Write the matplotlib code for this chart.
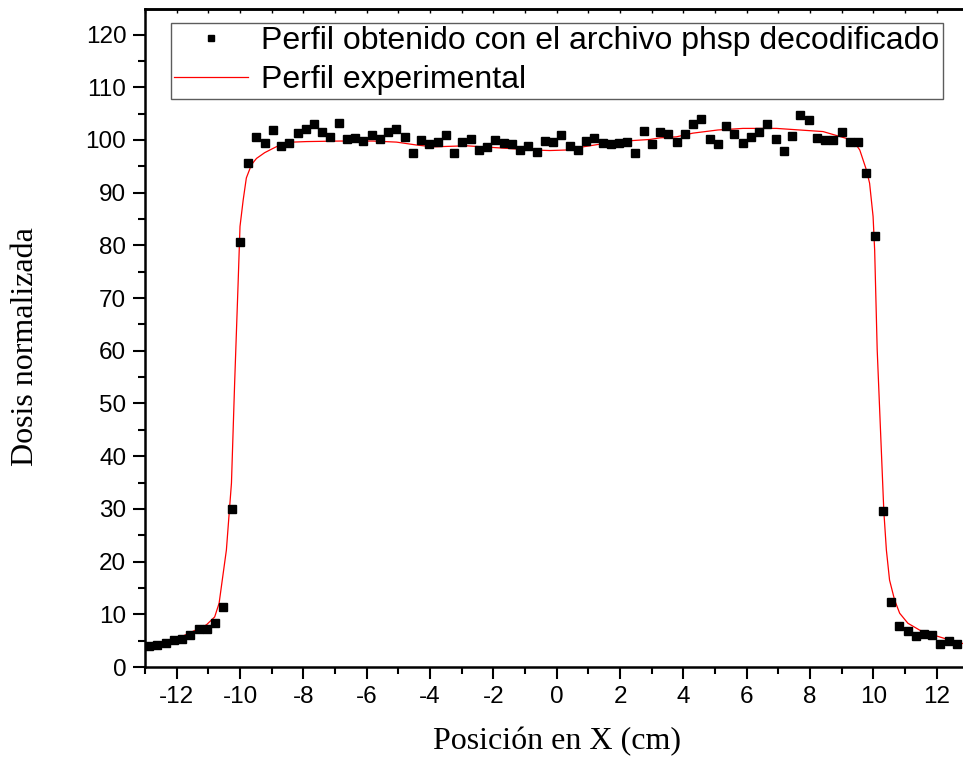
import numpy as np
import matplotlib
matplotlib.use("Agg")
import matplotlib.pyplot as plt
from matplotlib.ticker import MultipleLocator

plt.rcParams["axes.unicode_minus"] = False

# Simulated profile (phase-space file), sampled on a regular grid
sim_x = np.round(np.linspace(-12.87, 12.64, 99), 3)
sim_dose = [
    4.0, 4.2, 4.6, 5.1, 5.4, 6.1, 7.2, 7.2, 8.3, 11.4, 30.0, 80.6,
    95.6, 100.6, 99.5, 101.9, 98.9, 99.4, 101.3, 102.0, 103.0, 101.5,
    100.6, 103.2, 100.2, 100.4, 99.9, 100.9, 100.1, 101.5, 102.1, 100.6,
    97.6, 100.0, 99.2, 99.6, 100.9, 97.5, 99.6, 100.2, 98.1, 98.7,
    100.0, 99.5, 99.2, 98.1, 98.9, 97.8, 99.9, 99.6, 100.9, 98.9,
    98.1, 99.9, 100.3, 99.5, 99.2, 99.4, 99.6, 97.5, 101.7, 99.2,
    101.5, 101.1, 99.6, 101.1, 103.0, 104.0, 100.1, 99.2, 102.7, 101.1,
    99.4, 100.6, 101.5, 103.0, 100.1, 97.9, 100.8, 104.7, 103.8, 100.3,
    100.0, 100.0, 101.6, 99.6, 99.6, 93.7, 81.7, 29.6, 12.4, 7.8,
    6.9, 5.9, 6.3, 6.1, 4.4, 5.0, 4.3,
]

# Measured profile
exp_x = [
    -13.0, -12.88, -12.38, -11.85, -11.33, -11.06, -10.8, -10.66, -10.56,
    -10.43, -10.27, -10.17, -10.06, -10.0, -9.9, -9.8, -9.64, -9.48, -9.22,
    -8.96, -8.69, -8.33, -7.9, -6.85, -5.8, -5.06, -4.43, -3.9, -2.85, -1.8,
    -0.75, -0.22, 0.3, 0.83, 1.36, 2.41, 2.94, 3.25, 3.78, 4.3, 5.09, 5.88,
    6.94, 7.67, 8.41, 9.15, 9.46, 9.57, 9.78, 9.88, 9.99, 10.04, 10.12,
    10.25, 10.33, 10.41, 10.51, 10.67, 10.83, 11.09, 11.46, 11.88, 12.31,
    12.78, 13.0,
]
exp_dose = [
    4.3, 4.4, 4.9, 5.75, 7.2, 8.0, 9.5, 12.1, 16.5,
    22.2, 34.9, 53.8, 72.8, 83.6, 88.6, 92.8, 95.3, 96.5, 97.6,
    98.4, 99.2, 99.6, 99.7, 99.8, 99.8, 99.6, 99.05, 98.7, 98.9, 98.5,
    98.1, 98.0, 98.1, 98.7, 99.2, 99.9, 100.1, 100.4, 100.6, 101.3, 101.9, 102.2,
    102.2, 101.9, 101.6, 100.3, 99.05, 98.1, 94.3, 91.8, 85.5, 79.1, 60.2,
    41.2, 29.5, 22.2, 16.5, 12.7, 10.2, 8.3, 7.0, 6.1, 5.3,
    4.5, 4.3,
]

x_ticks = list(range(-12, 13, 2))
y_ticks = list(range(0, 121, 10))

W, H = 963, 767
fig = plt.figure(figsize=(W / 100, H / 100), dpi=100)
ax = fig.add_axes([145 / W, 100 / H, 823.4 / W, 657.7 / H])

ax.plot(sim_x, sim_dose, linestyle="none", marker="s", markersize=6.2,
        color="black", label="Perfil obtenido con el archivo phsp decodificado",
        zorder=3)
ax.plot(exp_x, exp_dose, color="red", linewidth=0.9,
        label="Perfil experimental", zorder=2)

ax.set_xlim(-13, 13)
ax.set_ylim(0, 124.8)
ax.set_xticks(x_ticks)
ax.set_yticks(y_ticks)
ax.xaxis.set_minor_locator(MultipleLocator(1))
ax.yaxis.set_minor_locator(MultipleLocator(5))

tick_font = dict(family="Liberation Sans", size=17.5)
ax.set_xticklabels([str(v) for v in x_ticks], fontdict=tick_font)
ax.set_yticklabels([str(v) for v in y_ticks], fontdict=tick_font)

ax.tick_params(which="major", direction="out", length=8.5, width=1.5,
               pad=5, top=False, right=False)
ax.tick_params(which="minor", direction="out", length=5.2, width=1.5,
               top=False, right=False)

for s in ax.spines.values():
    s.set_linewidth(1.8)

# small inward ticks along the top edge
top = ax.secondary_xaxis("top")
top.set_xticks(np.arange(-13, 14, 1))
top.tick_params(direction="in", length=3, width=1.0, labeltop=False)
top.spines["top"].set_linewidth(1.8)

label_font = dict(family="Liberation Serif", size=23)
ax.set_xlabel("Posición en X (cm)", fontdict=label_font, labelpad=14)
ax.set_ylabel("Dosis normalizada", fontdict=label_font)
ax.yaxis.set_label_coords(-0.1275, 0.4866)

leg = ax.legend(loc="upper left", bbox_to_anchor=(171 / W, 1 - 22.7 / H),
                bbox_transform=fig.transFigure, borderaxespad=0,
                prop=dict(family="Liberation Sans", size=23),
                frameon=True, fancybox=False, edgecolor="#333333",
                handlelength=2.3, handletextpad=0.42, borderpad=0.1,
                labelspacing=0.3, markerscale=0.8)
leg.get_frame().set_linewidth(1.0)

fig.savefig("out.png", dpi=100)
